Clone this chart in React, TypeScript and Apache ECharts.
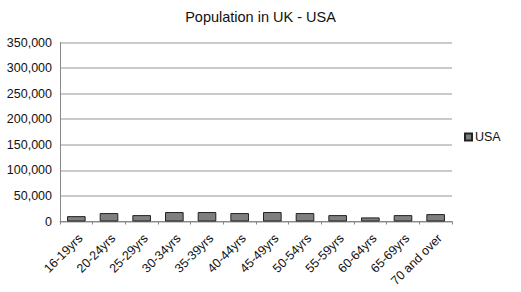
import React, { useEffect, useRef } from "react";
import * as echarts from "echarts";

const categories = [
  "16-19yrs", "20-24yrs", "25-29yrs", "30-34yrs", "35-39yrs", "40-44yrs",
  "45-49yrs", "50-54yrs", "55-59yrs", "60-64yrs", "65-69yrs", "70 and over",
];
const usaValues = [10500, 16500, 12500, 18500, 18500, 16500, 18500, 16500, 12500, 8000, 12500, 14500];
const yTicks = [0, 50000, 100000, 150000, 200000, 250000, 300000, 350000];

export default function App() {
  const ref = useRef<HTMLDivElement>(null);
  useEffect(() => {
    if (!ref.current) return;
    const chart = echarts.init(ref.current, null, { renderer: "svg" });
    chart.setOption({
      animation: false,
      backgroundColor: "#ffffff",
      textStyle: { fontFamily: "Liberation Sans, Arial, sans-serif" },
      title: {
        text: "Population in UK - USA",
        left: "center",
        top: 4,
        textStyle: { fontSize: 14.5, fontWeight: "normal", color: "#111", fontFamily: "Liberation Sans, Arial, sans-serif" },
      },
      legend: {
        data: ["USA"],
        orient: "vertical",
        left: 459,
        top: 125.5,
        icon: "rect",
        itemWidth: 7,
        itemHeight: 7,
        itemGap: 4,
        textStyle: { fontSize: 12.5, color: "#111", padding: [0, 0, 0, -2] },
      },
      grid: { left: 60, right: 69, top: 42.5, bottom: 70.5, containLabel: false },
      xAxis: {
        type: "category",
        data: categories,
        axisLine: { lineStyle: { color: "#888", width: 1 } },
        axisTick: { show: true, length: 3, lineStyle: { color: "#888" } },
        axisLabel: {
          rotate: 45,
          fontSize: 12.5,
          color: "#111",
          interval: 0,
          margin: 19,
          padding: [0, -6, 0, 0],
        },
      },
      yAxis: {
        type: "value",
        min: yTicks[0],
        max: yTicks[yTicks.length - 1],
        interval: 50000,
        axisLine: { show: true, lineStyle: { color: "#888", width: 1 } },
        axisTick: { show: false },
        splitLine: { lineStyle: { color: "#b8b8b8", width: 1.5 } },
        axisLabel: {
          fontSize: 12.5,
          color: "#111",
          margin: 8,
          formatter: (v: number) => v.toLocaleString("en-US"),
        },
      },
      series: [
        {
          name: "USA",
          type: "bar",
          data: usaValues,
          barWidth: "57%",
          itemStyle: { color: "#7f7f7f", borderColor: "#222", borderWidth: 1 },
        },
      ],
    });
    return () => chart.dispose();
  }, []);
  return (
    <div
      ref={ref}
      style={{ position: "fixed", left: 0, top: 0, width: 521, height: 292 }}
    />
  );
}
